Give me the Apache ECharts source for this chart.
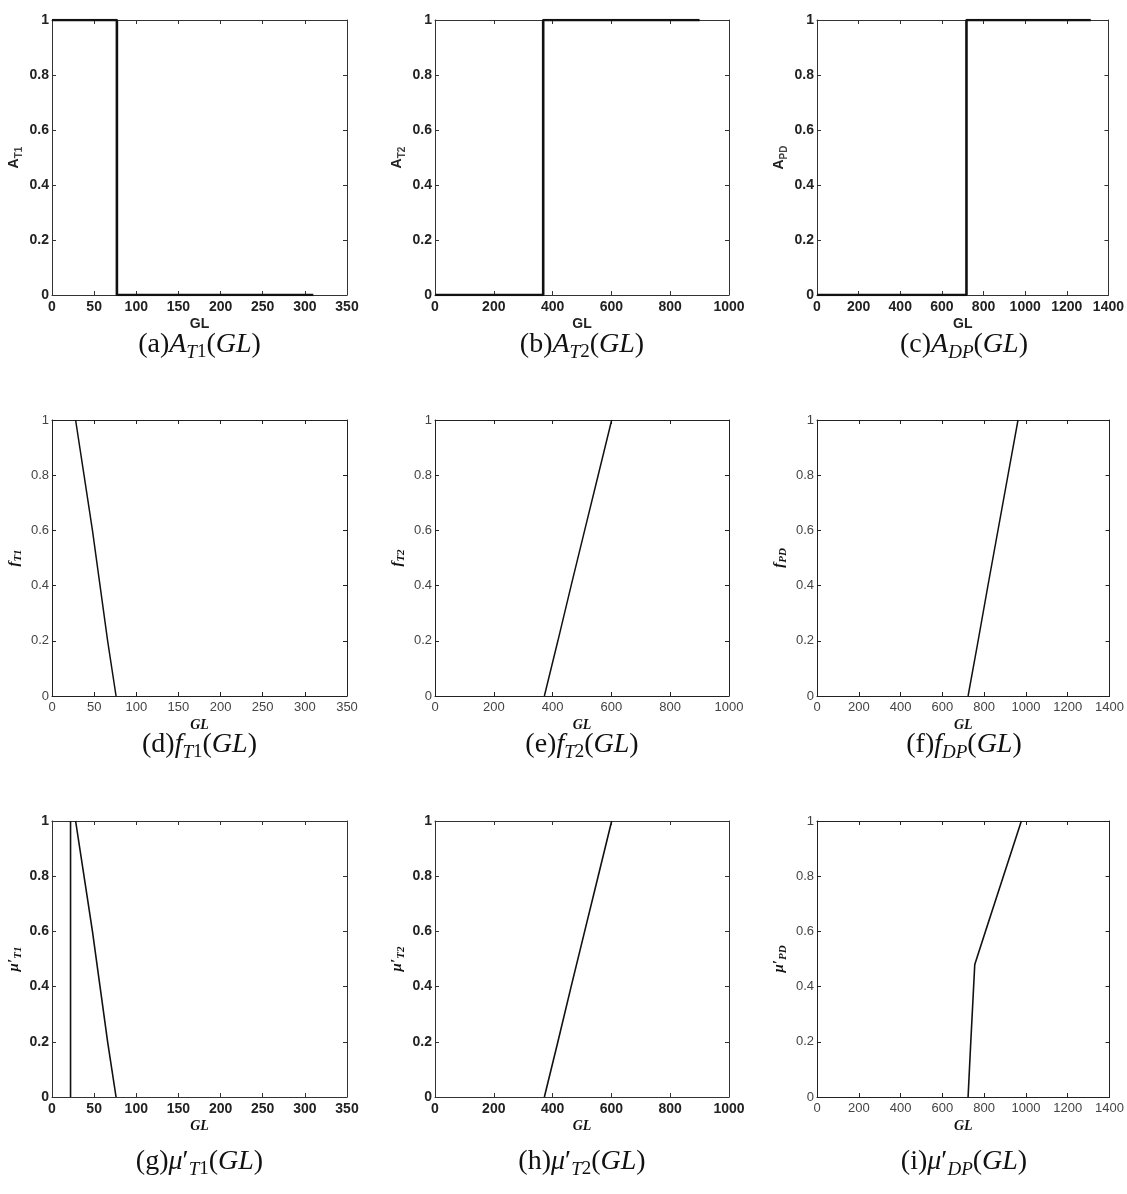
<!DOCTYPE html>
<html>
<head>
<meta charset="utf-8">
<script src="https://cdn.jsdelivr.net/npm/echarts@6/dist/echarts.min.js"></script>
<style>html,body{margin:0;padding:0;background:#fff;}#c{width:1127px;height:1194px;}</style>
</head>
<body>
<div id="c"></div>
<script>
// ---- data ----
const yTicks = ['0', '0.2', '0.4', '0.6', '0.8', '1'];
const xMaxT1 = 350, xStepT1 = 50;
const xMaxT2 = 1000, xStepT2 = 200;
const xMaxDP = 1400, xStepDP = 200;

// (a) A_T1
const aT1_GL = [0, 77, 77, 310];
const aT1_v  = [1, 1, 0, 0];
// (b) A_T2
const aT2_GL = [0, 368, 368, 900];
const aT2_v  = [0, 0, 1, 1];
// (c) A_DP
const aDP_GL = [0, 718, 718, 1315];
const aDP_v  = [0, 0, 1, 1];
// (d) f_T1
const fT1_GL = [28, 38, 48, 57, 66, 76];
const fT1_v  = [1, 0.8, 0.6, 0.4, 0.2, 0];
// (e) f_T2
const fT2_GL = [372, 418, 463, 509, 555, 601];
const fT2_v  = [0, 0.2, 0.4, 0.6, 0.8, 1];
// (f) f_DP
const fDP_GL = [723, 771, 818, 866, 914, 962];
const fDP_v  = [0, 0.2, 0.4, 0.6, 0.8, 1];
// (g) mu'_T1 : vertical line + decreasing line
const mT1a_GL = [22, 22];
const mT1a_v  = [0, 1];
const mT1b_GL = [28, 38, 48, 57, 66, 76];
const mT1b_v  = [1, 0.8, 0.6, 0.4, 0.2, 0];
// (h) mu'_T2
const mT2_GL = [372, 418, 463, 509, 555, 601];
const mT2_v  = [0, 0.2, 0.4, 0.6, 0.8, 1];
// (i) mu'_DP
const mDP_GL = [723, 736, 755, 806, 892, 978];
const mDP_v  = [0, 0.2, 0.48, 0.6, 0.8, 1];

function zip(xs, ys) { return xs.map((x, i) => [x, ys[i]]); }

// ---- layout ----
const colLeft = [52, 435, 817];
const colWidth = [295, 294, 294];
const rowTop = [20, 420, 821];
const rowHeight = [275, 276, 276];
const colX = [[xMaxT1, xStepT1], [xMaxT2, xStepT2], [xMaxDP, xStepDP]];

const boldStyle = { labelFont: 'bold', labelSize: 14, labelColor: '#222', axisColor: '#333' };
const thinStyle = { labelFont: 'normal', labelSize: 13, labelColor: '#444', axisColor: '#222' };

const sans = 'Liberation Sans';
const serif = 'Liberation Serif';

const nameSans = {
  fontFamily: sans, fontWeight: 'bold', fontSize: 14, color: '#222',
  rich: {
    m: { fontFamily: sans, fontWeight: 'bold', fontSize: 14, color: '#222', lineHeight: 20, verticalAlign: 'middle' },
    s: { fontFamily: sans, fontWeight: 'bold', fontSize: 10, color: '#444', lineHeight: 12, verticalAlign: 'bottom' }
  }
};
const nameSerif = {
  fontFamily: serif, fontWeight: 'bold', fontStyle: 'italic', fontSize: 14, color: '#111',
  rich: {
    m: { fontFamily: serif, fontWeight: 'bold', fontStyle: 'italic', fontSize: 15, color: '#111', lineHeight: 20, verticalAlign: 'middle' },
    s: { fontFamily: serif, fontWeight: 'bold', fontStyle: 'italic', fontSize: 11, color: '#111', lineHeight: 12, verticalAlign: 'bottom' }
  }
};

// caption parts: [label, symbol, prime, subscript letters, subscript digit]
const panels = [
  { r: 0, c: 0, st: boldStyle, xn: 'GL', xns: nameSans, yn: '{m|A}{s|T1}', yns: nameSans, lw: 2.6,
    series: [zip(aT1_GL, aT1_v)], cap: ['(a)', 'A', '', 'T', '1'] },
  { r: 0, c: 1, st: boldStyle, xn: 'GL', xns: nameSans, yn: '{m|A}{s|T2}', yns: nameSans, lw: 2.6,
    series: [zip(aT2_GL, aT2_v)], cap: ['(b)', 'A', '', 'T', '2'] },
  { r: 0, c: 2, st: boldStyle, xn: 'GL', xns: nameSans, yn: '{m|A}{s|PD}', yns: nameSans, lw: 2.6,
    series: [zip(aDP_GL, aDP_v)], cap: ['(c)', 'A', '', 'DP', ''] },
  { r: 1, c: 0, st: thinStyle, xn: 'GL', xns: nameSerif, yn: '{m|f}{s|T1}', yns: nameSerif, lw: 1.5,
    series: [zip(fT1_GL, fT1_v)], cap: ['(d)', 'f', '', 'T', '1'] },
  { r: 1, c: 1, st: thinStyle, xn: 'GL', xns: nameSerif, yn: '{m|f}{s|T2}', yns: nameSerif, lw: 1.5,
    series: [zip(fT2_GL, fT2_v)], cap: ['(e)', 'f', '', 'T', '2'] },
  { r: 1, c: 2, st: thinStyle, xn: 'GL', xns: nameSerif, yn: '{m|f}{s|PD}', yns: nameSerif, lw: 1.5,
    series: [zip(fDP_GL, fDP_v)], cap: ['(f)', 'f', '', 'DP', ''] },
  { r: 2, c: 0, st: boldStyle, xn: 'GL', xns: nameSerif, yn: '{m|μ′}{s|T1}', yns: nameSerif, lw: 1.6,
    series: [zip(mT1a_GL, mT1a_v), zip(mT1b_GL, mT1b_v)], cap: ['(g)', 'μ', '′', 'T', '1'] },
  { r: 2, c: 1, st: boldStyle, xn: 'GL', xns: nameSerif, yn: '{m|μ′}{s|T2}', yns: nameSerif, lw: 1.6,
    series: [zip(mT2_GL, mT2_v)], cap: ['(h)', 'μ', '′', 'T', '2'] },
  { r: 2, c: 2, st: thinStyle, xn: 'GL', xns: nameSerif, yn: '{m|μ′}{s|PD}', yns: nameSerif, lw: 1.6,
    series: [zip(mDP_GL, mDP_v)], cap: ['(i)', 'μ', '′', 'DP', ''] }
];
const capY = [345, 745, 1162];

const grid = [], xAxis = [], yAxis = [], series = [], graphic = [];

panels.forEach((p, gi) => {
  const left = colLeft[p.c], top = rowTop[p.r], w = colWidth[p.c], h = rowHeight[p.r];
  grid.push({ left: left, top: top, width: w, height: h, containLabel: false });
  const [xmax, xstep] = colX[p.c];
  const st = p.st;
  const lineStyle = { color: st.axisColor, width: 1 };
  const tick = { show: true, inside: true, length: 4, lineStyle: { color: st.axisColor, width: 1 } };
  const lbl = { fontFamily: sans, fontWeight: st.labelFont, fontSize: st.labelSize, color: st.labelColor };
  xAxis.push({
    type: 'value', gridIndex: gi, position: 'bottom', min: 0, max: xmax, interval: xstep,
    axisLine: { show: true, onZero: false, lineStyle }, axisTick: tick, splitLine: { show: false },
    axisLabel: Object.assign({ margin: 5, formatter: (v) => String(v) }, lbl),
    name: p.xn, nameLocation: 'middle', nameGap: 22, nameTextStyle: p.xns
  });
  xAxis.push({
    type: 'value', gridIndex: gi, position: 'top', min: 0, max: xmax, interval: xstep,
    axisLine: { show: true, onZero: false, lineStyle }, axisTick: tick, splitLine: { show: false },
    axisLabel: { show: false }
  });
  yAxis.push({
    type: 'value', gridIndex: gi, position: 'left', min: 0, max: 1, interval: 0.2,
    axisLine: { show: true, onZero: false, lineStyle }, axisTick: tick, splitLine: { show: false },
    axisLabel: Object.assign({ margin: 3, formatter: (v) => yTicks[Math.round(v * 5)] }, lbl),
    name: p.yn, nameLocation: 'middle', nameRotate: 90, nameGap: 28, nameTextStyle: p.yns
  });
  yAxis.push({
    type: 'value', gridIndex: gi, position: 'right', min: 0, max: 1, interval: 0.2,
    axisLine: { show: true, onZero: false, lineStyle }, axisTick: tick, splitLine: { show: false },
    axisLabel: { show: false }
  });
  p.series.forEach((d) => {
    series.push({
      type: 'line', xAxisIndex: gi * 2, yAxisIndex: gi * 2, data: d,
      showSymbol: false, symbol: 'none', animation: false, silent: true,
      lineStyle: { color: '#111', width: p.lw }
    });
  });
  const [pre, sym, prime, subL, subD] = p.cap;
  graphic.push({
    type: 'text', x: left + w / 2, y: capY[p.r], silent: true,
    style: {
      text: '{r|' + pre + '}{i|' + sym + '}' + (prime ? '{r|' + prime + '}' : '') +
            '{s|' + subL + '}' + (subD ? '{d|' + subD + '}' : '') + '{r|(}{i|GL}{r|)}',
      align: 'center', verticalAlign: 'middle',
      rich: {
        r: { fontFamily: serif, fontSize: 28, fill: '#111', lineHeight: 34, verticalAlign: 'middle' },
        i: { fontFamily: serif, fontStyle: 'italic', fontSize: 28, fill: '#111', lineHeight: 34, verticalAlign: 'middle' },
        s: { fontFamily: serif, fontStyle: 'italic', fontSize: 19, fill: '#111', lineHeight: 19, verticalAlign: 'bottom' },
        d: { fontFamily: serif, fontSize: 19, fill: '#111', lineHeight: 19, verticalAlign: 'bottom' }
      }
    }
  });
});

const chart = echarts.init(document.getElementById('c'), null, { renderer: 'canvas' });
chart.setOption({
  animation: false,
  backgroundColor: '#fff',
  grid, xAxis, yAxis, series, graphic
});
</script>
</body>
</html>
